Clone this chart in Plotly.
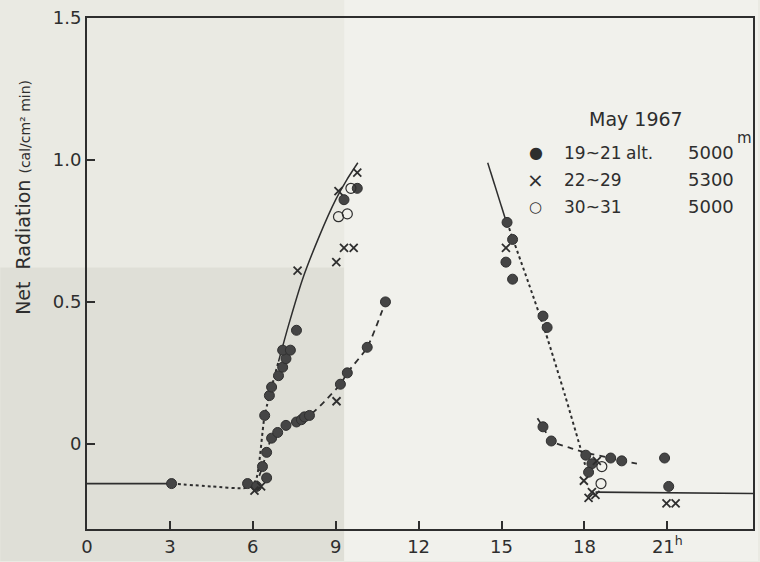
import plotly.graph_objects as go

# ---- data (hours, cal/cm^2 min) ----
dots_x = [3.06, 5.81, 6.14, 6.5, 6.35, 6.5, 6.43, 6.6, 6.68, 6.93, 7.08, 7.2, 7.08, 7.36, 7.58,
          6.68, 6.9, 7.2, 7.58, 7.76, 7.87, 8.05, 9.17, 9.42, 10.14, 10.8, 9.3, 9.78,
          15.2, 15.4, 15.16, 15.4, 16.5, 16.65, 16.5, 16.8, 18.05, 18.27, 18.15, 18.95, 19.35,
          20.9, 21.05]
dots_y = [-0.14, -0.14, -0.15, -0.12, -0.08, -0.03, 0.10, 0.17, 0.20, 0.24, 0.27, 0.30, 0.33, 0.33, 0.40,
          0.02, 0.04, 0.065, 0.077, 0.085, 0.095, 0.10, 0.21, 0.25, 0.34, 0.50, 0.86, 0.90,
          0.78, 0.72, 0.64, 0.58, 0.45, 0.41, 0.06, 0.01, -0.04, -0.07, -0.10, -0.05, -0.06,
          -0.05, -0.15]

cross_x = [6.06, 6.3, 7.62, 9.02, 9.3, 9.65, 9.1, 9.78, 9.03, 15.16, 18.45, 17.98, 18.27, 18.15,
           18.4, 20.97, 21.3]
cross_y = [-0.165, -0.15, 0.61, 0.64, 0.69, 0.69, 0.89, 0.955, 0.15, 0.69, -0.06, -0.13, -0.17,
           -0.19, -0.18, -0.21, -0.21]

open_x = [9.1, 9.42, 9.55, 18.63, 18.6]
open_y = [0.80, 0.81, 0.90, -0.08, -0.14]

# hand-drawn guide curves
night_x = [0, 3.06]
night_y = [-0.14, -0.14]
dawn_x = [3.06, 4.5, 5.75, 6.1, 6.43, 6.93]
dawn_y = [-0.14, -0.15, -0.155, -0.13, 0.10, 0.29]
rise_x = [6.93, 7.3, 7.8, 8.4, 9.0, 9.4, 9.8]
rise_y = [0.29, 0.42, 0.58, 0.73, 0.86, 0.93, 0.99]
low_rise_x = [6.1, 6.35, 6.5, 6.68, 7.2, 8.05, 8.6, 9.17, 9.42, 10.14, 10.8]
low_rise_y = [-0.15, -0.08, -0.03, 0.02, 0.065, 0.10, 0.15, 0.21, 0.25, 0.34, 0.50]
fall_x = [14.5, 15.18]
fall_y = [0.99, 0.78]
fall_dot_x = [15.2, 16.0, 16.6, 17.3, 17.9, 18.15]
fall_dot_y = [0.78, 0.56, 0.39, 0.17, -0.03, -0.12]
fall_dash_x = [16.3, 16.5, 16.8, 17.5, 18.0, 18.95, 19.35, 19.9]
fall_dash_y = [0.09, 0.06, 0.01, -0.015, -0.03, -0.05, -0.06, -0.07]
eve_x = [18.4, 24.1]
eve_y = [-0.17, -0.175]

x_ticks = [0, 3, 6, 9, 12, 15, 18, 21]
x_tick_labels = ["0", "3", "6", "9", "12", "15", "18", "21<sup>h</sup>"]
y_ticks = [0, 0.5, 1.0, 1.5]
y_tick_labels = ["0", "0.5", "1.0", "1.5"]

INK = "#2e2e2e"
FONT = "DejaVu Sans"
BG = "#eaeae3"

fig = go.Figure()

def line(xs, ys, dash, w=1.4):
    fig.add_trace(go.Scatter(x=xs, y=ys, mode="lines", line=dict(color=INK, width=w, dash=dash,
                             shape="spline", smoothing=0.6), hoverinfo="skip", showlegend=False))

line(night_x, night_y, "solid", 1.6)
line(dawn_x, dawn_y, "dot", 2)
line(rise_x, rise_y, "solid", 1.5)
line(low_rise_x, low_rise_y, "6px,5px", 1.8)
line(fall_x, fall_y, "solid", 1.5)
line(fall_dot_x, fall_dot_y, "dot", 2)
line(fall_dash_x, fall_dash_y, "6px,5px", 1.8)
line(eve_x, eve_y, "solid", 1.6)

fig.add_trace(go.Scatter(x=dots_x, y=dots_y, mode="markers", showlegend=False,
                         marker=dict(symbol="circle", size=10, color="#454545",
                                     line=dict(color="#303030", width=1))))
fig.add_trace(go.Scatter(x=cross_x, y=cross_y, mode="markers", showlegend=False,
                         marker=dict(symbol="x-thin", size=8, color=INK,
                                     line=dict(color=INK, width=1.8))))
fig.add_trace(go.Scatter(x=open_x, y=open_y, mode="markers", showlegend=False,
                         marker=dict(symbol="circle-open", size=10, color=INK,
                                     line=dict(color=INK, width=1.2))))

W, H = 760, 562
L, R, T, B = 87, 5, 18, 32
pw, ph = W - L - R, H - T - B

def px(x):
    return (x - L) / pw

def py(y):
    return (H - B - y) / ph

ann = []
def txt(x, y, s, size=18, xanchor="left", angle=0):
    ann.append(dict(x=px(x), y=py(y), xref="paper", yref="paper", text=s, showarrow=False,
                    xanchor=xanchor, yanchor="middle", textangle=angle,
                    font=dict(family=FONT, size=size, color=INK)))

txt(638, 119, "May 1967", 19, "center")
txt(537, 153, "●", 16, "center")
txt(563, 153, "19~21", 17)
txt(626, 153, "alt.", 17)
txt(688, 153, "5000", 18)
txt(746, 138, "m", 15, "center")
txt(537, 180, "×", 20, "center")
txt(563, 180, "22~29", 17)
txt(688, 180, "5300", 18)
txt(537, 207, "○", 15, "center")
txt(563, 207, "30~31", 17)
txt(688, 207, "5000", 18)
txt(22, 198, "Net  Radiation <span style='font-size:14px'>(cal/cm² min)</span>", 19, "center", -90)

fig.update_layout(
    width=W, height=H, margin=dict(l=L, r=R, t=T, b=B),
    paper_bgcolor=BG, plot_bgcolor="rgba(0,0,0,0)",
    font=dict(family=FONT, color=INK),
    annotations=ann,
    shapes=[dict(type="rect", xref="paper", yref="paper", x0=px(0), x1=px(345), y0=py(562), y1=py(268),
                 fillcolor="#dfdfd7", line=dict(width=0), layer="below"),
            dict(type="rect", xref="paper", yref="paper", x0=px(345), x1=px(760), y0=py(562), y1=py(0),
                 fillcolor="#f1f1ec", line=dict(width=0), layer="below")],
)
fig.update_xaxes(range=[0, 24.1], tickvals=x_ticks, ticktext=x_tick_labels, ticks="inside",
                 ticklen=8, tickwidth=1.5, tickcolor=INK, showline=True, linewidth=2, linecolor=INK,
                 mirror=True, showgrid=False, zeroline=False, tickfont=dict(size=18, family=FONT))
fig.update_yaxes(range=[-0.3, 1.5], tickvals=y_ticks, ticktext=y_tick_labels, ticks="inside",
                 ticklen=8, tickwidth=1.5, tickcolor=INK, showline=True, linewidth=2, linecolor=INK,
                 mirror=True, showgrid=False, zeroline=False, tickfont=dict(size=18, family=FONT))

fig.write_html("out.html", config={"displayModeBar": False},
               post_script="document.body.style.margin='0';document.body.style.background='%s';" % BG)
